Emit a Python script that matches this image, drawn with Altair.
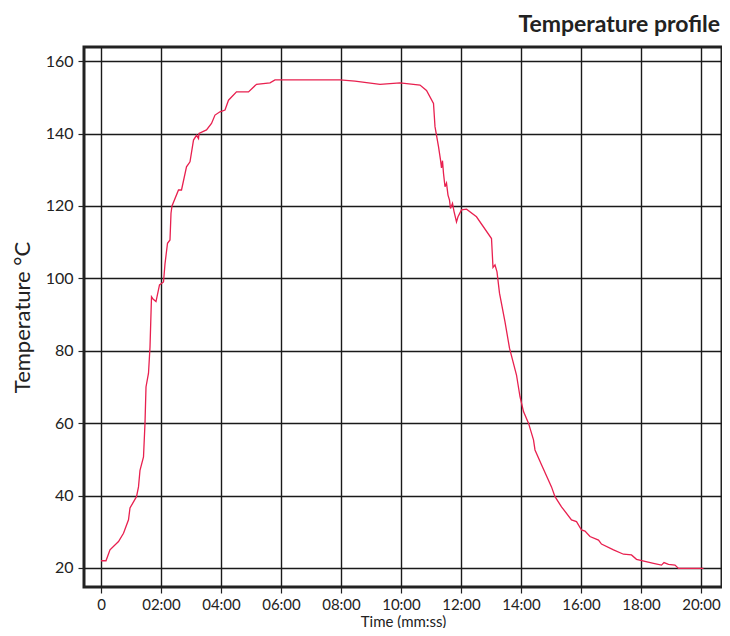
import altair as alt
import pandas as pd

# Time in seconds, temperature in °C
time_s = [0, 10, 18, 35, 45, 55, 58, 71, 75, 78, 85, 88, 90, 95, 98, 101, 104, 110,
          117, 125, 128, 133, 138, 140, 142, 155, 161, 171, 178, 185, 191, 195, 196,
          211, 221, 228, 238, 248, 255, 271, 295, 311, 338, 348, 398, 478, 508, 558,
          598, 638, 651, 665, 668, 675, 679, 681, 683, 685, 688, 691, 694, 697, 699,
          703, 706, 711, 714, 721, 731, 751, 781, 784, 788, 792, 797, 808, 817, 831,
          838, 845, 855, 865, 868, 881, 901, 908, 921, 941, 951, 961, 968, 978, 995,
          1001, 1025, 1045, 1061, 1071, 1105, 1121, 1126, 1135, 1148, 1155, 1205]
temp_c = [22, 22, 25, 27.3, 29.6, 33.3, 36.6, 39.7, 42.4, 47, 50.7, 60, 70, 73.8, 81, 94.9, 94.3, 93.6,
          98.2, 99, 104, 109.7, 110.6, 118, 120, 124.4, 124.4, 130.8, 132.2, 138.2, 139.5, 138.6, 140,
          141, 142.8, 145.1, 146, 146.5, 149.2, 151.5, 151.5, 153.6, 154, 154.8, 154.8, 154.8, 154.5, 153.6,
          154, 153.4, 151.9, 148.3, 141.9, 136.4, 132.7, 130.5, 132.5, 129, 125.3, 126.3, 123, 121.6, 119.3,
          120.7, 118.5, 115.6, 117, 118.9, 119.1, 117, 111, 103, 103.7, 101.8, 95.9, 88, 80.7, 73.3,
          67.3, 63.2, 60, 55.4, 52.6, 48.5, 42.4, 39.7, 36.9, 33.3, 32.8, 30.5, 30.2, 28.7, 27.7,
          26.6, 25, 23.8, 23.6, 22.4, 21.3, 20.8, 21.5, 21, 20.8, 19.9, 19.9]

x_ticks = [0, 120, 240, 360, 480, 600, 720, 840, 960, 1080, 1200]
y_ticks = [20, 40, 60, 80, 100, 120, 140, 160]

df = pd.DataFrame({"t": time_s, "temp": temp_c})

FONT = "Lato"
INK = "#222222"

label_expr = ("datum.value == 0 ? '0' : "
              "(floor(datum.value/60) < 10 ? '0' : '') + floor(datum.value/60) + ':00'")

chart = alt.Chart(df).mark_line(color="#e8204f", strokeWidth=1.3).encode(
    x=alt.X("t:Q",
            scale=alt.Scale(domain=[-34, 1242], nice=False, zero=False),
            axis=alt.Axis(values=x_ticks, labelExpr=label_expr, title="Time (mm:ss)",
                          domain=False, grid=True, gridColor="#1a1a1a", gridWidth=1.4,
                          ticks=True, tickColor=INK, tickSize=6, tickWidth=1.2,
                          labelFont=FONT, labelFontSize=15, labelColor=INK, labelPadding=4,
                          titleFont=FONT, titleFontSize=15, titleFontWeight="normal",
                          titleColor=INK, titleY=39, titleBaseline="alphabetic")),
    y=alt.Y("temp:Q",
            scale=alt.Scale(domain=[14.75, 163.9], nice=False, zero=False),
            axis=alt.Axis(values=y_ticks, title="Temperature °C",
                          domain=False, grid=True, gridColor="#1a1a1a", gridWidth=1.4,
                          ticks=True, tickColor=INK, tickSize=6, tickWidth=1.2,
                          labelFont=FONT, labelFontSize=16, labelColor=INK, labelPadding=5,
                          titleFont=FONT, titleFontSize=22, titleFontWeight="normal",
                          titleColor=INK, titlePadding=11)),
).properties(
    width=638,
    height=540,
    title=alt.TitleParams("Temperature profile", anchor="end", font=FONT, fontSize=23,
                          fontWeight="bold", color=INK, offset=10, dx=-2),
    autosize=alt.AutoSizeParams(type="none"),
    padding={"left": 76, "top": 39, "right": 0, "bottom": 41},
).configure_view(stroke=INK, strokeWidth=3)

chart.save("out.html", embed_options={"renderer": "svg", "actions": False})
